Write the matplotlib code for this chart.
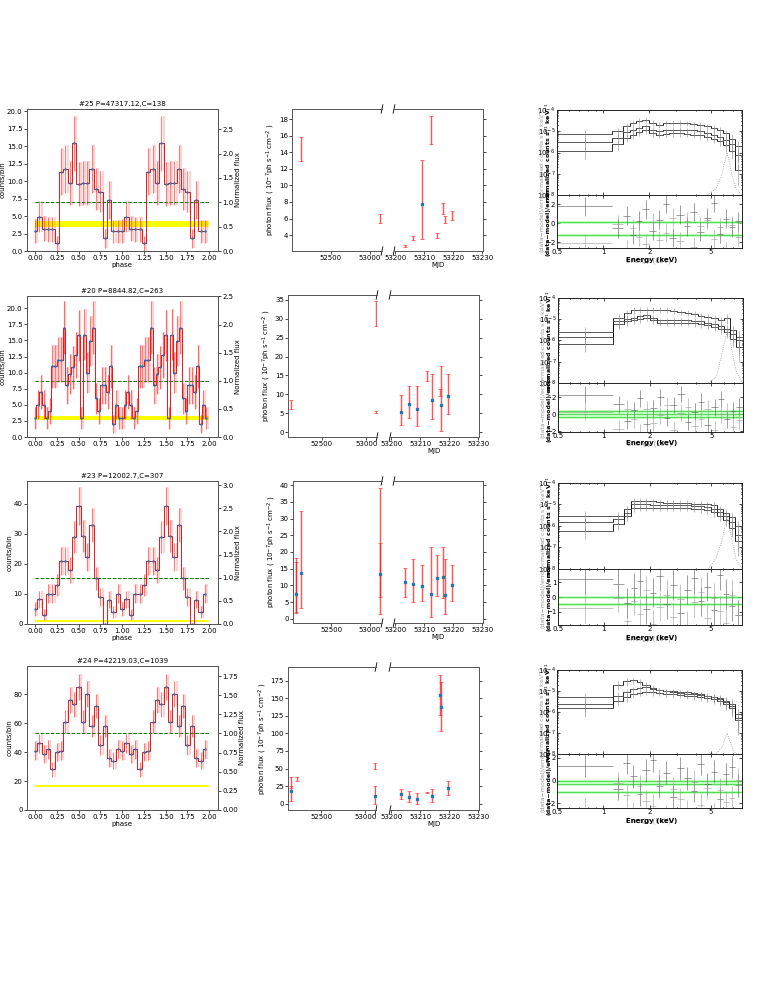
import matplotlib
matplotlib.use('Agg')
import matplotlib.pyplot as plt
import numpy as np

plt.rcParams['font.family'] = ['DejaVu Sans']
plt.rcParams['font.size'] = 5
plt.rcParams['axes.linewidth'] = 0.7
plt.rcParams['xtick.major.width'] = 0.5
plt.rcParams['ytick.major.width'] = 0.5
plt.rcParams['xtick.major.size'] = 2
plt.rcParams['ytick.major.size'] = 2
plt.rcParams['xtick.minor.size'] = 1
plt.rcParams['ytick.minor.size'] = 1

# ---------------- phase folded light curves (one cycle, plotted twice) ----------
titles = ['#25 P=47317.12,C=138', '#20 P=8844.82,C=263',
          '#23 P=12002.7,C=307', '#24 P=42219.03,C=1039']
counts_25 = [2.9, 4.9, 3.2, 3.1, 3.1, 1.1, 11.3, 11.7, 9.7, 15.4,
             9.6, 9.7, 9.7, 11.7, 8.9, 8.5, 1.8, 7.3, 2.8, 2.8]
counts_20 = [3.0, 5.0, 7.0, 5.0, 3.0, 4.0, 11.0, 11.0, 12.0, 12.0,
             17.0, 8.0, 9.8, 10.8, 12.8, 15.8, 3.0, 15.9, 10.0, 14.9,
             17.0, 6.0, 4.0, 8.0, 8.0, 7.0, 11.0, 2.0, 5.0, 3.0]
counts_23 = [5.0, 8.2, 3.1, 10.1, 10.0, 13.0, 21.0, 21.0, 18.0, 29.0,
             39.2, 29.3, 22.3, 33.0, 15.2, 9.0, 0.0, 8.0, 4.0, 10.0]
counts_24 = [41, 46, 39, 42, 28, 40, 41, 61, 76, 73,
             85, 61, 80, 58, 72, 45, 58, 36, 34, 42]
phase_counts = [counts_25, counts_20, counts_23, counts_24]
bkg_band = [(3.4, 4.3), (2.7, 3.3), (0.6, 1.2), (15.8, 17.3)]
phase_ylim = [(0, 20.3), (0, 21.9), (0, 47.6), (0, 99.5)]

# ---------------- long-term photon flux (10^-7 ph/s/cm2) ----------------------
red_x = [[52109, 53139, 53203.4, 53206.2, 53212.3, 53214.3, 53216.5, 53217.3, 53219.5],
         [52162, 53105, 53105, 53212.2, 53216.7],
         [52039, 53139],
         [52162, 52226, 53105, 53212.2]]
red_lo = [[13.0, 5.5, 2.6, 3.4, 15.0, 3.6, 6.5, 5.4, 5.8],
          [6.2, 28.2, 5.1, 13.6, 9.6],
          [1.9, 6.5],
          [22.0, 32.4, 49.5, 15.5]]
red_hi = [[15.9, 6.5, 2.85, 3.9, 18.4, 4.2, 7.85, 6.35, 6.9],
          [8.6, 34.6, 5.7, 16.3, 11.3],
          [17.0, 22.8],
          [25.0, 37.5, 58.5, 16.8]]
blue_x = [[53209.1],
          [53203.5, 53206.1, 53208.9, 53214.2, 53217.2, 53219.6],
          [52039, 52113, 53139, 53203.5, 53206.2, 53209.1, 53212.3, 53214.3,
           53216.5, 53217.3, 53219.6],
          [52162, 53105, 53203.5, 53206.1, 53208.9, 53214.2, 53216.7, 53217.2, 53219.6]]
blue_val = [[7.7],
            [5.2, 7.5, 6.2, 8.6, 7.1, 9.5],
            [7.6, 13.6, 13.3, 10.9, 10.4, 9.9, 7.4, 12.3, 12.4, 7.3, 10.1],
            [18.7, 11.3, 13.5, 9.2, 6.8, 11.0, 154.5, 137.7, 22.0]]
blue_lo = [[3.5],
           [1.8, 3.7, 1.7, 3.4, 0.3, 4.7],
           [2.0, 3.3, 1.5, 6.5, 5.0, 5.3, 0.6, 7.0, 6.3, 1.6, 5.5],
           [4.5, 0.0, 6.0, 1.9, 0.0, 3.0, 125.7, 103.0, 12.1]]
blue_hi = [[13.1],
           [9.7, 12.3, 12.1, 15.3, 17.6, 15.5],
           [18.2, 32.3, 39.2, 15.3, 17.8, 16.1, 21.6, 19.1, 21.4, 17.8, 16.2],
           [37.5, 25.0, 20.8, 17.7, 14.7, 20.5, 183.6, 172.5, 32.2]]
flux_xlim_left = [(51996, 53161), (52124, 53120), (52000, 53161), (52124, 53120)]
flux_xlim_right = (53199.6, 53230.2)
flux_ylim = [(2.07, 19.25), (-1.3, 36.3), (-1.2, 41.2), (-9, 194.5)]

# ---------------- spectra (normalized counts, units of 1e-6) ------------------
E_edges = [0.5, 1.15, 1.35, 1.5, 1.65, 1.8, 2.0, 2.2, 2.45, 2.7, 3.0,
           3.35, 3.7, 4.1, 4.5, 5.0, 5.5, 6.0, 6.6, 7.2, 8.0]
spec_curves = [
    [[7.1, 10, 18, 25, 32, 35, 25, 20, 24, 25, 25, 24, 22, 20, 17, 14, 11, 8, 4.5, 2],
     [3.0, 5.0, 9, 12, 15, 17, 12, 10, 11, 12, 12, 11.5, 11, 10, 8.5, 7, 5.5, 4, 2.5, 0.8],
     [1.2, 2.5, 5, 7, 9, 11, 8, 7, 7.5, 8, 8, 7.5, 7, 6.5, 5.5, 4.5, 3.5, 2.2, 1.2, 0.15]],
    [[2.6, 12, 20, 28, 28, 28, 28, 28, 28, 25, 22, 20, 18, 15, 13, 11, 9, 12, 3, 1.5],
     [1.5, 8, 10, 12, 14, 16, 12, 9, 9, 9, 9, 9, 8.5, 8, 7, 6, 5, 3.5, 2, 1],
     [0.7, 6, 8, 9, 10, 12, 9, 7, 7, 7, 7, 7, 6.5, 6, 5.5, 4.5, 3.5, 2.5, 1.2, 0.5]],
    [[3, 3, 6, 15, 15, 15, 14, 13, 12, 12, 12, 12, 11, 11, 10, 9, 6, 4, 2.5, 1],
     [1.5, 2.2, 4, 10, 10, 10, 9, 9, 9, 9, 9, 9, 8.5, 8.5, 7.5, 6.5, 4.5, 3, 1.5, 0.4],
     [0.6, 1.2, 3, 7, 7, 7, 7, 7, 7, 7, 7, 6.8, 6.5, 6.2, 5.5, 4.5, 3, 2, 0.8, 0.2]],
    [[5, 20, 30, 32, 28, 20, 14, 11, 10, 9.5, 9, 8.5, 8, 7, 6, 5, 4.5, 3.5, 2.5, 0.8],
     [2.5, 6, 9, 12, 14, 15, 13, 11, 10, 9, 8, 7.5, 7, 6.5, 5.5, 5, 4, 3, 2, 0.5],
     [1.5, 3.5, 5, 7, 8, 9, 8.5, 8, 7.5, 7, 6.5, 6, 5.5, 5, 4.5, 4, 3.5, 2.5, 1.5, 0.4]],
]
spec_err_frac = [0.6, 0.45, 0.4, 0.35, 0.3, 0.3, 0.3, 0.3, 0.3, 0.3,
                 0.3, 0.3, 0.3, 0.35, 0.35, 0.4, 0.45, 0.5, 0.6, 0.8]
comp_e = [4.8, 5.4, 5.9, 6.2, 6.4, 6.6, 6.9, 7.3, 8.0]
comp_vals = [[0.01, 0.02, 0.08, 0.4, 1.0, 0.4, 0.08, 0.02, 0.01],
             [0.01, 0.02, 0.3, 1.5, 3.0, 1.5, 0.2, 0.03, 0.01],
             [0.01, 0.03, 0.2, 1.0, 2.5, 1.0, 0.2, 0.03, 0.01],
             [0.01, 0.01, 0.02, 0.05, 0.1, 0.05, 0.02, 0.01, 0.01]]
resid_a = [[1.8, -0.5, 0.8, -1.2, 0.3, 1.5, -0.8, 0.4, 2.1, -1.5, 0.9, -0.3, 1.2, -0.9, 0.6, 2.2, -1.1, 0.5, -0.4, 0.2],
           [2.3, 1.2, -0.8, 0.5, 1.9, -1.1, 0.7, 2.0, -0.4, 1.1, 2.4, -0.9, 0.3, 1.5, -1.3, 0.8, 1.8, -0.6, 0.4, 0.9],
           [1.2, 0.9, -0.4, 0.6, 1.1, -0.8, 0.3, 1.4, -0.5, 0.8, -1.1, 0.5, 1.3, -0.3, 0.7, -0.9, 1.5, 0.2, -0.6, -1.2],
           [1.3, -0.7, 1.6, 0.4, -1.2, 0.9, 1.8, -0.5, 0.7, -1.4, 1.1, 0.2, -0.9, 1.5, -0.3, 0.8, -1.6, 0.6, 1.2, -0.4]]
resid_b = [[-0.9, 1.1, -1.6, 0.7, -0.2, -1.0, 1.3, -0.6, 0.2, 1.8, -0.7, 1.4, -1.3, 0.9, 1.6, -0.5, 0.8, -1.8, 1.0, -0.2],
           [0.6, -1.4, 1.0, -0.3, -1.8, 0.9, -0.7, 0.2, 1.4, -1.6, 0.5, 1.2, -1.1, -0.2, 1.0, -1.5, 0.3, 0.7, -1.2, -0.4],
           [-0.3, 0.4, -1.2, 0.2, -0.7, 0.9, -1.4, -0.2, 0.6, -0.9, 0.3, -1.5, 0.1, 0.8, -1.0, 0.4, -0.5, -1.3, 0.6, -0.8],
           [-1.5, 0.8, -0.3, -1.9, 0.5, -0.8, -1.2, 1.0, -2.1, 0.3, -0.6, -1.7, 0.9, -1.1, 0.4, -2.0, 0.2, -0.9, -0.5, 1.1]]
green_levels = [[0.17, -1.2], [0.4, 0.0, -0.32], [0.0, -0.45], [0.0, -0.3, -1.0]]
resid_ylim = [(-2.6, 3.0), (-2.1, 3.7), (-1.9, 1.9), (-2.4, 2.35)]

# ---------------- layout in pixels ---------------------------------------------
W, H = 765, 991
phase_pos = [(26.7, 109, 218, 251), (26.7, 296, 218, 437),
             (26.7, 481, 218, 624), (26.7, 666, 218, 810)]
flux_pos = [(292, 382, 394, 483, 109, 251), (288, 377, 390, 479, 295, 437),
            (292.7, 382, 394, 483, 481, 623), (288, 376, 390, 479, 667, 810)]
spec_pos = [(556.7, 742, 110, 195, 248), (557.7, 742.7, 298, 383, 432),
            (557.7, 742, 483, 569, 625), (557, 742, 670, 754, 808)]


def rect(l, t, r, b):
    return [l / W, 1 - b / H, (r - l) / W, (b - t) / H]


fig = plt.figure(figsize=(W / 100, H / 100), dpi=100)
spine_col = '#555555'


def phase_panel(i):
    counts = phase_counts[i]
    ax = fig.add_axes(rect(*phase_pos[i]))
    n = len(counts)
    ph = np.arange(2 * n) / n
    c2 = np.tile(counts, 2)
    err = np.sqrt(c2)
    mean = np.mean(counts)
    lo, hi = bkg_band[i]
    ax.fill_between([0, 2], lo, hi, color='yellow', lw=0, zorder=1)
    ax.hlines(mean, 0, 2, colors='green', linestyles='--', lw=0.7, zorder=2)
    ax.errorbar(ph + 0.5 / n, c2, yerr=err, fmt='none', ecolor='#ff7070',
                elinewidth=1.6, alpha=0.3, zorder=3)
    ax.errorbar(ph, c2, yerr=err, fmt='none', ecolor='red',
                elinewidth=0.8, alpha=0.5, zorder=3)
    ax.plot(ph, c2, drawstyle='steps-mid', color='k', lw=0.5, alpha=0.5, zorder=4)
    ax.plot(ph, c2, drawstyle='steps-mid', color='red', lw=0.7, alpha=0.85, zorder=5)
    ax.plot(ph, c2, '.', color='#1f77b4', ms=1.6, zorder=6)
    ax.set_xlim(-0.095, 2.1)
    ax.set_ylim(*phase_ylim[i])
    ax.set_xticks([0, 0.25, 0.5, 0.75, 1.0, 1.25, 1.5, 1.75, 2.0])
    ax.set_title(titles[i], fontsize=5, pad=2)
    ax.set_ylabel('counts/bin', labelpad=1)
    if i != 1:
        ax.set_xlabel('phase', labelpad=0.5)
    ax.tick_params(pad=1)
    ax2 = ax.twinx()
    ax2.set_ylim(phase_ylim[i][0] / mean, phase_ylim[i][1] / mean)
    ax2.set_ylabel('Normalized flux', labelpad=1)
    ax2.tick_params(pad=1)
    for a in (ax, ax2):
        for s in a.spines.values():
            s.set_color(spine_col)


def flux_panel(i):
    l1, r1, l2, r2, t, b = flux_pos[i]
    axl = fig.add_axes(rect(l1, t, r1, b))
    axr = fig.add_axes(rect(l2, t, r2, b), sharey=axl)
    rx = np.array(red_x[i]); rlo = np.array(red_lo[i]); rhi = np.array(red_hi[i])
    rmid = (rlo + rhi) / 2
    bx = np.array(blue_x[i]); bv = np.array(blue_val[i])
    blo = np.array(blue_lo[i]); bhi = np.array(blue_hi[i])
    for ax in (axl, axr):
        ax.vlines(rx, rlo, rhi, color='#ff8080', lw=1.8, alpha=0.3)
        ax.errorbar(rx, rmid, yerr=[rmid - rlo, rhi - rmid], fmt='none',
                    ecolor='red', elinewidth=0.8, capsize=1.3, capthick=0.6, alpha=0.6)
        ax.vlines(bx, blo, bhi, color='#ff8080', lw=1.8, alpha=0.3)
        ax.errorbar(bx, bv, yerr=[bv - blo, bhi - bv], fmt='none',
                    ecolor='red', elinewidth=0.8, capsize=1.3, capthick=0.6, alpha=0.6)
        ax.plot(bx, bv, 's', ms=1.6, color='#1f77b4')
        ax.tick_params(pad=1)
        for s in ax.spines.values():
            s.set_color(spine_col)
    axl.set_xlim(*flux_xlim_left[i])
    axr.set_xlim(*flux_xlim_right)
    axl.set_ylim(*flux_ylim[i])
    axl.set_xticks([52500, 53000])
    axr.set_xticks([53200, 53210, 53220, 53230])
    axl.spines['right'].set_visible(False)
    axr.spines['left'].set_visible(False)
    axr.yaxis.tick_right()
    axr.tick_params(labelright=False, labelleft=False)
    axl.set_ylabel('photon flux ( $10^{-7}$ph s$^{-1}$ cm$^{-2}$ )', labelpad=1)
    axr.set_xlabel('MJD', labelpad=0.5)
    d = 0.03
    kw = dict(color='k', clip_on=False, lw=0.6)
    axl.plot((1 - d / 3, 1 + d / 3), (-d, d), transform=axl.transAxes, **kw)
    axl.plot((1 - d / 3, 1 + d / 3), (1 - d, 1 + d), transform=axl.transAxes, **kw)
    axr.plot((-d / 3, d / 3), (-d, d), transform=axr.transAxes, **kw)
    axr.plot((-d / 3, d / 3), (1 - d, 1 + d), transform=axr.transAxes, **kw)


def spec_panel(i):
    l, r, t, s, b = spec_pos[i]
    axt = fig.add_axes(rect(l, t, r, s))
    axb = fig.add_axes(rect(l, s, r, b), sharex=axt)
    edges = np.array(E_edges)
    cen = np.sqrt(edges[:-1] * edges[1:])
    xerr = [cen - edges[:-1], edges[1:] - cen]
    frac = np.array(spec_err_frac)
    for vals in spec_curves[i]:
        v = np.array(vals) * 1e-6
        axt.errorbar(cen, v, xerr=xerr, yerr=v * frac, fmt='none',
                     ecolor='#888888', elinewidth=0.4)
        axt.stairs(v, edges, color='k', lw=0.6)
    axt.plot(comp_e, np.array(comp_vals[i]) * 1e-6, ':', color='#999999', lw=0.6)
    axt.set_xscale('log')
    axt.set_yscale('log')
    axt.set_xlim(0.5, 8.0)
    axt.set_ylim(1e-8, 1e-4)
    for lev in green_levels[i]:
        axb.axhline(lev, color='#88ff88', lw=2.0, alpha=0.6)
        axb.axhline(lev, color='#33cc33', lw=0.5)
    axb.errorbar(cen, resid_a[i], xerr=xerr, yerr=1.0, fmt='none',
                 ecolor='#555555', elinewidth=0.4)
    axb.errorbar(cen, np.array(resid_b[i]) + green_levels[i][-1], xerr=xerr, yerr=1.0,
                 fmt='none', ecolor='#999999', elinewidth=0.4)
    axb.set_ylim(*resid_ylim[i])
    axb.set_xticks([0.5, 1, 2, 5])
    axb.set_xticklabels(['0.5', '1', '2', '5'])
    for ax in (axt, axb):
        ax.tick_params(which='both', direction='in', top=True, right=True, pad=1)
        for sp in ax.spines.values():
            sp.set_color('#222222')
    axt.tick_params(labelbottom=False)
    # overlaid (doubled) axis labels
    axt.text(-0.078, 0.5, 'normalized counts s$^{-1}$ keV$^{-1}$', rotation=90,
             transform=axt.transAxes, ha='center', va='center', color='#999999', fontsize=4.5)
    axt.text(-0.045, 0.5, 'normalized counts s$^{-1}$ keV$^{-1}$', rotation=90,
             transform=axt.transAxes, ha='center', va='center', fontweight='bold', fontsize=4.5)
    axb.text(-0.078, 0.5, '(data\u2212model)/error', rotation=90,
             transform=axb.transAxes, ha='center', va='center', color='#999999', fontsize=4.5)
    axb.text(-0.045, 0.5, '(data\u2212model)/error', rotation=90,
             transform=axb.transAxes, ha='center', va='center', fontweight='bold', fontsize=4.5)
    axb.text(0.495, -0.27, 'Energy (keV)', transform=axb.transAxes, ha='center',
             color='#999999', fontsize=5)
    axb.text(0.51, -0.27, 'Energy (keV)', transform=axb.transAxes, ha='center',
             fontweight='bold', fontsize=5)


for i in range(4):
    phase_panel(i)
    flux_panel(i)
    spec_panel(i)

fig.savefig('out.png', dpi=100)
